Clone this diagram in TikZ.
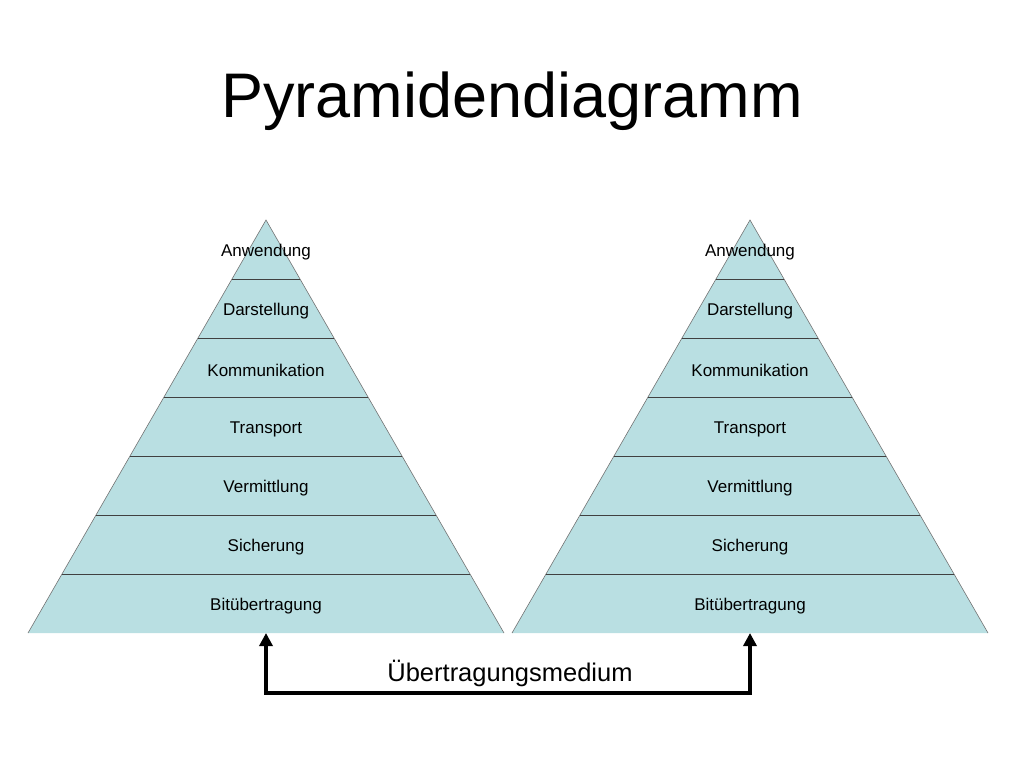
\documentclass[tikz,border=0pt]{standalone}
\usepackage{fontspec}
\setmainfont{Liberation Sans}
\usetikzlibrary{arrows.meta}
\definecolor{layerfill}{RGB}{185,223,226}
\tikzset{
  layertext/.style={font=\fontsize{17}{20}\selectfont, inner sep=0pt, anchor=center},
  sideedge/.style={draw=black!55, line width=0.6pt},
  divider/.style={draw=black!75, line width=0.7pt},
  medium/.style={line width=4pt, {Triangle[width=13pt,length=13pt]}-{Triangle[width=13pt,length=13pt]}}
}
\begin{document}
\begin{tikzpicture}[x=1pt,y=-1pt]
\useasboundingbox (0,0) rectangle (1024,768);
\node[font=\fontsize{63}{70}\selectfont] (title) at (512,101) {Pyramidendiagramm};
\foreach \px/\nm in {266/L,750/R}{
  \fill[layerfill] (\px,220) -- (\px+238,633) -- (\px-238,633) -- cycle;
  \draw[sideedge] (\px-238,633) -- (\px,220) -- (\px+238,633);
  \foreach \k in {1,...,6}{
    \pgfmathsetmacro{\yy}{220+59*\k}
    \pgfmathsetmacro{\hw}{0.576271*59*\k}
    \draw[divider] (\px-\hw,\yy) -- (\px+\hw,\yy);
  }
  \foreach \k/\t in {0/Anwendung,1/Darstellung,2/Kommunikation,3/Transport,4/Vermittlung,5/Sicherung,6/Bitübertragung}{
    \node[layertext] (\nm\k) at (\px,252+59*\k) {\t};
  }
  \coordinate (base\nm) at (\px,633);
}
\coordinate (cornerL) at (266,693);
\coordinate (cornerR) at (750,693);
\draw[medium] (baseL) -- (cornerL) -- (cornerR) -- (baseR);
\node[font=\fontsize{25.5}{30}\selectfont] (medium) at (510,673) {Übertragungsmedium};
\end{tikzpicture}
\end{document}
